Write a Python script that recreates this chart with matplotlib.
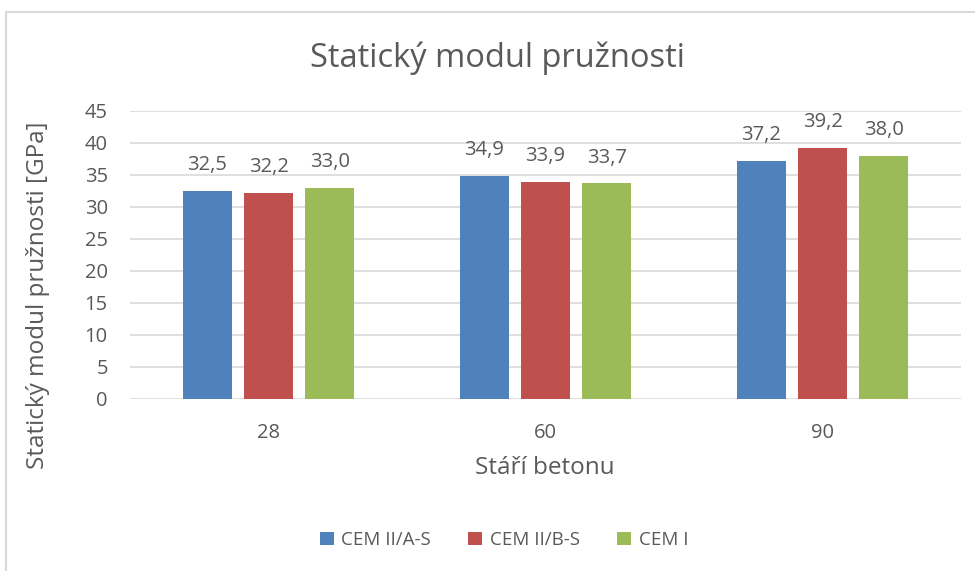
import numpy as np
import matplotlib.pyplot as plt
from matplotlib.patches import Rectangle

# data
categories = ['28', '60', '90']
series_names = ['CEM II/A-S', 'CEM II/B-S', 'CEM I']
cem2as = [32.5, 34.9, 37.2]
cem2bs = [32.2, 33.9, 39.2]
cem1 = [33.0, 33.7, 38.0]
colors = ['#4F81BD', '#C0504D', '#9BBB59']
txt = '#595959'

plt.rcParams['font.family'] = ['Open Sans', 'DejaVu Sans']

fig = plt.figure(figsize=(9.75, 5.71), dpi=100)
ax = fig.add_axes([130 / 975, 1 - 399 / 571, 831 / 975, 288 / 571])

x = np.arange(len(categories))
w = 0.177
gap = 0.044
for i, (vals, name) in enumerate(zip([cem2as, cem2bs, cem1], series_names)):
    pos = x + (i - 1) * (w + gap)
    bars = ax.bar(pos, vals, w, color=colors[i], label=name, zorder=3)
    for b, v in zip(bars, vals):
        ax.annotate(f'{v:.1f}'.replace('.', ','), (b.get_x() + b.get_width() / 2, v),
                    xytext=(0, 18.5), textcoords='offset points',
                    ha='center', va='center', fontsize=14.5, color=txt)

ax.set_xlim(-0.5, 2.5)
ax.set_ylim(0, 45)
ax.set_yticks(range(0, 46, 5))
ax.set_xticks(x)
ax.set_xticklabels(categories)
ax.grid(axis='y', color='#D9D9D9', linewidth=1.2, zorder=0)
for s in ax.spines.values():
    s.set_visible(False)
ax.tick_params(length=0, labelsize=14.5, colors=txt)
ax.tick_params(axis='x', pad=17)
ax.tick_params(axis='y', pad=16)

fig.text(545 / 975, 1 - 468 / 571, 'Stáří betonu', ha='center', va='center',
         fontsize=17.5, color=txt)
fig.text(38 / 975, 1 - 295 / 571, 'Statický modul pružnosti [GPa]', ha='center',
         va='center', rotation=90, fontsize=17.5, color=txt)
fig.text(0.51, 1 - 58 / 571, 'Statický modul pružnosti', ha='center', va='center',
         fontsize=23.5, color=txt)

fig.legend(loc='center', bbox_to_anchor=(504 / 975, 1 - 540 / 571), ncol=3,
           frameon=False, fontsize=13.5, labelcolor=txt, handlelength=0.75,
           handleheight=0.75, columnspacing=2.0, handletextpad=0.4)

# chart frame (top and left edges visible)
fig.add_artist(Rectangle((6 / 975, -0.01), 1.0, 1 - 12 / 571 + 0.01,
                         transform=fig.transFigure, fill=False,
                         edgecolor='#D9D9D9', linewidth=1.5))

fig.savefig('out.png', dpi=100)
